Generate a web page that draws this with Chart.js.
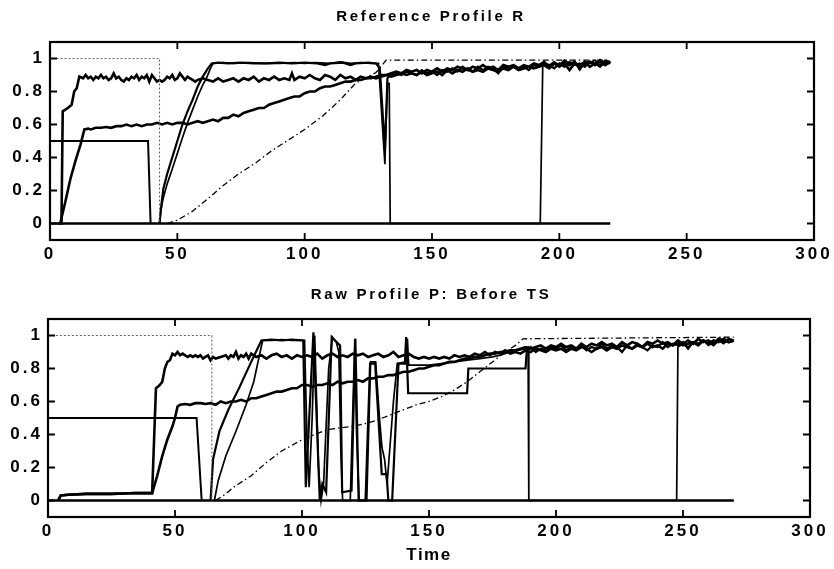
<!DOCTYPE html>
<html lang="en">
<head>
<meta charset="utf-8">
<title>Reference Profile R / Raw Profile P</title>
<script src="https://cdn.jsdelivr.net/npm/chart.js@4.4.0/dist/chart.umd.min.js"></script>
<style>
  body { margin: 0; background: #fff; }
  #wrap { position: relative; width: 834px; height: 569px; }
  canvas { position: absolute; left: 0; }
  #top { top: 0; }
  #bot { top: 270px; }
</style>
</head>
<body>
<div id="wrap">
  <canvas id="top" width="834" height="270" style="width:834px;height:270px"></canvas>
  <canvas id="bot" width="834" height="299" style="width:834px;height:299px"></canvas>
</div>

<script>
// axis ticks
var xTicks = [0, 50, 100, 150, 200, 250, 300];
var xTickLabels = ['0', '50', '100', '150', '200', '250', '300'];
var yTicks = [0, 0.2, 0.4, 0.6, 0.8, 1];
var yTickLabels = ['0', '0.2', '0.4', '0.6', '0.8', '1'];

// ---- Reference Profile R  [time, value]
var refDotted = [[1, 1], [43, 1], [43, 0]];
var refStep = [[0, 0.5], [38.5, 0.5], [39.5, 0]];
var refZero = [[0, 0], [220, 0]];
var refHigh = [[3, 0], [4.5, 0], [5, 0.68], [7, 0.7], [8.5, 0.72], [9.5, 0.8], [10.5, 0.82], [11.5, 0.89],
  [13, 0.88], [14, 0.9], [15, 0.88], [16, 0.89], [17, 0.87], [18, 0.89], [19, 0.88], [20, 0.9], [21, 0.88],
  [22, 0.89], [23, 0.87], [24, 0.88], [25, 0.91], [26, 0.88], [27, 0.89], [28, 0.87], [29, 0.86], [30, 0.88],
  [31, 0.87], [32, 0.89], [33, 0.88], [34, 0.9], [35, 0.87], [36, 0.89], [37, 0.88], [38, 0.9], [39, 0.86],
  [40, 0.9], [41, 0.88], [42, 0.86], [43, 0.87], [44, 0.86], [45, 0.87], [46, 0.89], [47, 0.88], [48, 0.9],
  [49, 0.87], [50, 0.88], [51, 0.91], [52, 0.89], [53, 0.87], [54, 0.89], [55, 0.88], [56, 0.87], [57, 0.86],
  [58, 0.87], [60, 0.88], [62, 0.87], [64, 0.86], [66, 0.88], [68, 0.86], [70, 0.87], [72, 0.88], [74, 0.86],
  [76, 0.88], [78, 0.87], [80, 0.89], [82, 0.86], [84, 0.88], [86, 0.87], [88, 0.89], [90, 0.87], [92, 0.88],
  [94, 0.87], [95, 0.91], [96, 0.87], [98, 0.89], [100, 0.88], [102, 0.9], [104, 0.88], [106, 0.87], [108, 0.9],
  [110, 0.89], [112, 0.87], [114, 0.9], [116, 0.88], [118, 0.89], [120, 0.87], [122, 0.89], [124, 0.88],
  [126, 0.89], [128, 0.88], [130, 0.89], [132, 0.9], [134, 0.89], [136, 0.9], [138, 0.91], [140, 0.9],
  [142, 0.91], [144, 0.9], [146, 0.92], [148, 0.9], [150, 0.91], [152, 0.92], [154, 0.9], [156, 0.93],
  [158, 0.91], [160, 0.93], [162, 0.92], [164, 0.94], [166, 0.92], [168, 0.93], [170, 0.92], [172, 0.94],
  [174, 0.93], [176, 0.92], [178, 0.94], [180, 0.93], [182, 0.95], [184, 0.93], [186, 0.94], [188, 0.95],
  [190, 0.94], [192, 0.95], [194, 0.96], [196, 0.94], [198, 0.97], [200, 0.95], [202, 0.97], [204, 0.93],
  [206, 0.97], [208, 0.96], [210, 0.98], [212, 0.95], [214, 0.97], [216, 0.98], [218, 0.96], [220, 0.98]];
var refMid = [[4, 0], [6, 0.13], [8, 0.27], [10, 0.38], [12, 0.48], [13.5, 0.57], [15, 0.575], [16, 0.57],
  [18, 0.58], [20, 0.58], [22, 0.585], [24, 0.58], [26, 0.59], [28, 0.59], [30, 0.6], [32, 0.59], [34, 0.6],
  [36, 0.59], [38, 0.6], [40, 0.6], [42, 0.61], [44, 0.6], [46, 0.61], [48, 0.6], [50, 0.61], [52, 0.61],
  [54, 0.6], [56, 0.61], [58, 0.62], [60, 0.61], [62, 0.62], [64, 0.63], [66, 0.62], [68, 0.64], [70, 0.64],
  [72, 0.66], [74, 0.65], [76, 0.67], [78, 0.68], [80, 0.69], [82, 0.7], [84, 0.7], [86, 0.72], [88, 0.73],
  [90, 0.74], [92, 0.75], [94, 0.76], [96, 0.77], [98, 0.77], [100, 0.79], [102, 0.8], [104, 0.8], [106, 0.82],
  [108, 0.83], [110, 0.83], [112, 0.84], [114, 0.85], [116, 0.86], [118, 0.86], [120, 0.87], [122, 0.87],
  [124, 0.88], [126, 0.88], [128, 0.89], [130, 0.9], [132, 0.9], [134, 0.91], [136, 0.92], [138, 0.91],
  [140, 0.93], [142, 0.92], [144, 0.93], [146, 0.91], [148, 0.93], [150, 0.92], [152, 0.94], [154, 0.92],
  [156, 0.94], [158, 0.93], [160, 0.95], [162, 0.94], [164, 0.93], [166, 0.95], [168, 0.94], [170, 0.96],
  [172, 0.94], [174, 0.95], [176, 0.93], [178, 0.96], [180, 0.95], [182, 0.96], [184, 0.94], [186, 0.96],
  [188, 0.95], [190, 0.97], [192, 0.96], [194, 0.98], [196, 0.95], [198, 0.97], [200, 0.96], [202, 0.98],
  [204, 0.96], [206, 0.98], [208, 0.94], [210, 0.97], [212, 0.98], [214, 0.96], [216, 0.99], [218, 0.97],
  [220, 0.98]];
var refRampA = [[43, 0], [43.8, 0.12], [44.5, 0.21], [46, 0.3], [48, 0.4], [50, 0.5], [52, 0.6], [54, 0.68],
  [56, 0.75], [58, 0.83], [60, 0.89], [62, 0.94], [63.5, 0.97], [66, 0.975], [70, 0.97], [75, 0.975], [80, 0.97],
  [85, 0.97], [90, 0.975], [95, 0.97], [100, 0.975], [105, 0.97], [108, 0.96], [110, 0.97], [115, 0.975],
  [118, 0.96], [120, 0.97], [125, 0.975], [128, 0.97], [129.5, 0.94], [130.5, 0.7], [131.5, 0.45], [132.5, 0.88],
  [133.5, 0.9], [136, 0.91], [138, 0.9], [140, 0.92], [142, 0.91], [144, 0.9], [146, 0.93], [148, 0.91],
  [150, 0.92], [152, 0.9], [154, 0.93], [156, 0.92], [158, 0.94], [160, 0.92], [162, 0.95], [164, 0.93],
  [166, 0.92], [168, 0.95], [170, 0.93], [172, 0.95], [174, 0.94], [176, 0.91], [178, 0.95], [180, 0.94],
  [182, 0.96], [184, 0.94], [186, 0.95], [188, 0.93], [190, 0.96], [192, 0.95], [194, 0.97], [196, 0.96],
  [198, 0.94], [200, 0.97], [202, 0.95], [204, 0.98], [206, 0.96], [208, 0.97], [210, 0.95], [212, 0.98],
  [214, 0.97], [216, 0.95], [218, 0.98], [220, 0.97]];
var refRampB = [[43, 0], [43.5, 0.08], [44.4, 0.15], [46, 0.24], [48, 0.33], [49.7, 0.41], [52, 0.52],
  [54, 0.61], [56, 0.69], [58, 0.77], [60, 0.84], [61.4, 0.88], [63, 0.94], [64, 0.97], [68, 0.975], [72, 0.97],
  [78, 0.975], [84, 0.97], [90, 0.97], [96, 0.975], [100, 0.97], [104, 0.975], [110, 0.97], [114, 0.98],
  [118, 0.97], [122, 0.975], [126, 0.97], [129, 0.97], [130.5, 0.6], [131.5, 0.36], [132.5, 0.85], [133.2, 0.85],
  [133.6, 0], [192.5, 0], [193.5, 0.97], [196, 0.96], [198, 0.98], [200, 0.96], [202, 0.99], [204, 0.97],
  [206, 0.98], [208, 0.93], [210, 0.98], [212, 0.97], [214, 0.99], [216, 0.96], [218, 0.99], [220, 0.98]];
var refDashDot = [[46, 0], [50, 0.02], [55.6, 0.07], [62, 0.15], [68, 0.23], [74, 0.3], [81, 0.37], [87, 0.44],
  [94, 0.51], [100, 0.57], [107, 0.65], [114, 0.75], [120, 0.85], [128, 0.915], [132, 0.99], [220, 0.99]];

// ---- Raw Profile P: Before TS  [time, value]
var rawDotted = [[1.5, 1], [64.5, 1], [64.5, 0]];
var rawStep = [[0, 0.5], [58.5, 0.5], [60.5, 0]];
var rawZero = [[0, 0], [270, 0]];
var rawHigh = [[4, 0], [5, 0.03], [8, 0.035], [15, 0.04], [25, 0.04], [35, 0.045], [41, 0.045], [42.5, 0.68],
  [44, 0.7], [45, 0.72], [46, 0.8], [47, 0.84], [48, 0.85], [49, 0.89], [50, 0.88], [51, 0.9], [52, 0.88],
  [53, 0.89], [54, 0.88], [55, 0.87], [56, 0.88], [57, 0.87], [58, 0.88], [59, 0.87], [60, 0.88], [61, 0.86],
  [62, 0.87], [63, 0.88], [64, 0.85], [65, 0.87], [66, 0.86], [68, 0.87], [70, 0.88], [71, 0.86], [72, 0.88],
  [73, 0.87], [74, 0.9], [75, 0.86], [76, 0.88], [77, 0.87], [78, 0.89], [79, 0.86], [80, 0.89], [82, 0.87],
  [84, 0.88], [86, 0.86], [88, 0.88], [90, 0.89], [92, 0.87], [94, 0.88], [96, 0.86], [98, 0.88], [100, 0.87],
  [102, 0.88], [104, 0.87], [106, 0.89], [108, 0.86], [110, 0.88], [112, 0.89], [114, 0.87], [116, 0.88],
  [118, 0.87], [120, 0.89], [122, 0.88], [124, 0.89], [126, 0.87], [128, 0.88], [130, 0.89], [132, 0.87],
  [134, 0.88], [136, 0.9], [138, 0.87], [140, 0.88], [142, 0.89], [144, 0.87], [146, 0.86], [148, 0.87],
  [150, 0.86], [152, 0.87], [154, 0.86], [156, 0.87], [158, 0.86], [160, 0.88], [162, 0.87], [164, 0.88],
  [166, 0.87], [168, 0.89], [170, 0.88], [172, 0.9], [174, 0.88], [176, 0.9], [178, 0.89], [180, 0.91],
  [182, 0.89], [184, 0.9], [186, 0.89], [188, 0.91], [190, 0.9], [192, 0.92], [194, 0.91], [196, 0.9],
  [198, 0.92], [200, 0.91], [202, 0.92], [204, 0.9], [206, 0.92], [208, 0.91], [210, 0.93], [212, 0.92],
  [214, 0.9], [216, 0.92], [218, 0.93], [220, 0.91], [222, 0.93], [224, 0.92], [226, 0.94], [228, 0.93],
  [230, 0.92], [232, 0.94], [234, 0.93], [236, 0.95], [238, 0.93], [240, 0.94], [242, 0.92], [244, 0.95],
  [246, 0.94], [248, 0.96], [250, 0.94], [252, 0.95], [254, 0.96], [256, 0.94], [258, 0.97], [260, 0.95],
  [262, 0.97], [264, 0.96], [266, 0.98], [268, 0.96], [270, 0.97]];
var rawMid = [[4, 0], [5, 0.03], [8, 0.035], [15, 0.04], [25, 0.04], [35, 0.045], [41, 0.045], [43, 0.15],
  [45, 0.27], [47, 0.37], [49, 0.45], [50, 0.5], [51, 0.57], [52, 0.58], [54, 0.585], [56, 0.58], [58, 0.59],
  [60, 0.59], [62, 0.585], [64, 0.59], [66, 0.58], [68, 0.6], [70, 0.59], [72, 0.6], [74, 0.6], [76, 0.61],
  [78, 0.6], [80, 0.62], [82, 0.62], [84, 0.63], [86, 0.64], [88, 0.65], [90, 0.66], [92, 0.66], [94, 0.67],
  [96, 0.68], [98, 0.68], [100, 0.7], [102, 0.7], [104, 0.69], [106, 0.7], [108, 0.7], [110, 0.71], [112, 0.7],
  [114, 0.72], [116, 0.71], [118, 0.72], [120, 0.72], [122, 0.73], [124, 0.72], [126, 0.74], [128, 0.74],
  [130, 0.75], [132, 0.75], [134, 0.76], [136, 0.76], [138, 0.77], [140, 0.78], [142, 0.78], [144, 0.79],
  [146, 0.8], [148, 0.8], [150, 0.81], [152, 0.82], [154, 0.82], [156, 0.83], [158, 0.84], [160, 0.84],
  [162, 0.85], [164, 0.86], [166, 0.86], [168, 0.87], [170, 0.87], [172, 0.88], [174, 0.89], [176, 0.89],
  [178, 0.9], [180, 0.9], [182, 0.91], [184, 0.91], [186, 0.92], [188, 0.93], [190, 0.92], [192, 0.93],
  [194, 0.94], [196, 0.92], [198, 0.94], [200, 0.93], [202, 0.95], [204, 0.93], [206, 0.94], [208, 0.92],
  [210, 0.95], [212, 0.93], [214, 0.95], [216, 0.94], [218, 0.96], [220, 0.94], [222, 0.95], [224, 0.93],
  [226, 0.96], [228, 0.94], [230, 0.96], [232, 0.95], [234, 0.93], [236, 0.96], [238, 0.95], [240, 0.97],
  [242, 0.95], [244, 0.96], [246, 0.94], [248, 0.97], [250, 0.95], [252, 0.97], [254, 0.95], [256, 0.98],
  [258, 0.96], [260, 0.97], [262, 0.95], [264, 0.98], [266, 0.97], [268, 0.96], [270, 0.97]];
var rawRampA = [[64, 0], [65, 0.25], [67.5, 0.42], [71, 0.55], [75.5, 0.69], [80, 0.84], [84, 0.97], [88, 0.975],
  [92, 0.97], [96, 0.975], [100.5, 0.97], [101.5, 0.08], [104.5, 1.02], [107, 0], [108, 0.1], [109.5, 0.05],
  [111.7, 0.99], [113, 0.97], [115, 0.94], [115.8, 0.05], [119.5, 0.06], [121, 0.98], [122.3, 0], [125, 0],
  [126.8, 0.83], [128.8, 0.83], [131.4, 0.16], [133.3, 0.16], [134, 0], [135.5, 0], [138, 0.83], [140.5, 0.83],
  [141, 0.99], [141.8, 0.65], [165, 0.65], [165.5, 0.8], [188, 0.8], [188.5, 0.91], [190, 0.93], [192, 0.9],
  [194, 0.92], [196, 0.91], [198, 0.93], [200, 0.92], [202, 0.94], [204, 0.91], [206, 0.93], [208, 0.92],
  [210, 0.94], [212, 0.91], [214, 0.93], [216, 0.92], [218, 0.95], [220, 0.92], [222, 0.94], [224, 0.93],
  [226, 0.9], [228, 0.94], [230, 0.92], [232, 0.95], [234, 0.93], [236, 0.91], [238, 0.94], [240, 0.93],
  [242, 0.96], [244, 0.93], [246, 0.95], [248, 0.94], [250, 0.96], [252, 0.92], [254, 0.96], [256, 0.95],
  [258, 0.97], [260, 0.96], [262, 0.94], [264, 0.97], [266, 0.96], [268, 0.98], [270, 0.97]];
var rawRampB = [[65.5, 0], [67, 0.12], [70, 0.27], [74, 0.42], [78, 0.58], [81, 0.72], [84.5, 0.97], [88, 0.97],
  [92, 0.975], [96, 0.97], [101, 0.97], [102, 0.35], [102.8, 0.08], [104, 0.5], [105, 1.0], [106.5, 0.2],
  [107.5, 0], [108.5, 0.1], [110.5, 0.8], [112, 0.99], [113.5, 0.96], [114.5, 0.9], [115.3, 0.3], [116, 0],
  [119, 0], [120.8, 0.98], [121.5, 0.4], [122.5, 0], [125.5, 0], [127, 0.84], [129, 0.84], [130.5, 0.5],
  [131.5, 0.32], [132.5, 0.25], [133.5, 0.1], [134.5, 0.3], [136, 0.6], [137.5, 0.83], [141, 0.84], [141.5, 0.98],
  [142, 0.82], [146, 0.82], [150, 0.82], [155, 0.83], [160, 0.84], [165, 0.85], [170, 0.86], [175, 0.87],
  [178, 0.88], [182, 0.9], [185, 0.91], [188, 0.92], [189, 0.93], [189.3, 0], [247.5, 0], [248, 0.93],
  [250, 0.95], [252, 0.93], [254, 0.96], [256, 0.95], [258, 0.97], [260, 0.94], [262, 0.96], [264, 0.97],
  [266, 0.95], [268, 0.98], [270, 0.97]];
var rawDashDot = [[66, 0], [70, 0.04], [73, 0.08], [80, 0.15], [86, 0.23], [92, 0.3], [99, 0.36], [105, 0.4],
  [110, 0.43], [115, 0.44], [120, 0.45], [126, 0.47], [130, 0.49], [135, 0.52], [140, 0.55], [145, 0.58],
  [150, 0.6], [155, 0.63], [160, 0.67], [165, 0.72], [170, 0.78], [175, 0.84], [180, 0.9], [184, 0.94],
  [187, 0.98], [270, 0.99]];

var FONT = '"Liberation Sans", Arial, Helvetica, sans-serif';

function line(pts, width, dash, color) {
  return {
    data: pts.map(function (p) { return { x: p[0], y: p[1] }; }),
    borderColor: color || '#000',
    borderWidth: width,
    borderDash: dash || [],
    pointRadius: 0,
    tension: 0,
    fill: false
  };
}

// frame, inward ticks and the text that sits outside the axes
var frame = {
  id: 'frame',
  beforeDraw: function (chart) {
    chart.ctx.letterSpacing = '3px';
  },
  afterDraw: function (chart, args, opts) {
    var ctx = chart.ctx, a = chart.chartArea;
    var xs = chart.scales.x, ys = chart.scales.y;
    ctx.save();
    ctx.strokeStyle = '#000';
    ctx.lineWidth = 2.2;
    ctx.strokeRect(a.left, a.top, a.right - a.left, a.bottom - a.top);
    ctx.lineWidth = 1.8;
    ctx.beginPath();
    xTicks.forEach(function (v) {
      var p = xs.getPixelForValue(v);
      ctx.moveTo(p, a.bottom); ctx.lineTo(p, a.bottom - 7);
      ctx.moveTo(p, a.top); ctx.lineTo(p, a.top + 7);
    });
    yTicks.forEach(function (v) {
      var p = ys.getPixelForValue(v);
      ctx.moveTo(a.left, p); ctx.lineTo(a.left + 7, p);
      ctx.moveTo(a.right, p); ctx.lineTo(a.right - 7, p);
    });
    ctx.stroke();

    ctx.fillStyle = '#000';
    ctx.textAlign = 'center';
    ctx.textBaseline = 'middle';
    ctx.letterSpacing = '2.7px';
    ctx.font = 'bold 15px ' + FONT;
    ctx.fillText(opts.title, 431, opts.titleY);
    if (opts.xTitle) {
      ctx.letterSpacing = '1.5px';
      ctx.font = 'bold 17px ' + FONT;
      ctx.fillText(opts.xTitle, 429, opts.xTitleY);
    }
    ctx.restore();
  }
};

function makeChart(id, datasets, o) {
  return new Chart(document.getElementById(id), {
    type: 'line',
    data: { datasets: datasets },
    options: {
      responsive: false,
      animation: false,
      layout: { padding: { left: 0, right: o.padRight, top: o.padTop, bottom: 0 } },
      plugins: {
        legend: { display: false },
        tooltip: { enabled: false },
        frame: { title: o.title, titleY: o.titleY, xTitle: o.xTitle, xTitleY: o.xTitleY }
      },
      scales: {
        x: {
          type: 'linear', min: 0, max: 300,
          grid: { display: false, drawTicks: false },
          border: { display: false },
          afterBuildTicks: function (s) { s.ticks = xTicks.map(function (v) { return { value: v }; }); },
          afterFit: function (s) { s.height = o.xHeight; },
          ticks: {
            autoSkip: false, maxRotation: 0, padding: 4, color: '#000',
            font: { family: FONT, size: 17, weight: 'bold' },
            callback: function (v, i) { return xTickLabels[i]; }
          }
        },
        y: {
          type: 'linear', min: -0.1, max: 1.1,
          grid: { display: false, drawTicks: false },
          border: { display: false },
          afterBuildTicks: function (s) { s.ticks = yTicks.map(function (v) { return { value: v }; }); },
          afterFit: function (s) { s.width = o.yWidth; },
          ticks: {
            padding: 5, color: '#000',
            font: { family: FONT, size: 17, weight: 'bold' },
            callback: function (v, i) { return yTickLabels[i]; }
          }
        }
      }
    },
    plugins: [frame]
  });
}

makeChart('top', [
  line(refDotted, 1.1, [2, 2], '#666'),
  line(refDashDot, 1.3, [6, 3, 1.5, 3]),
  line(refZero, 2.6),
  line(refStep, 2),
  line(refRampB, 1.7),
  line(refRampA, 2.2),
  line(refMid, 2.6),
  line(refHigh, 2.6)
], { padRight: 20, padTop: 42, xHeight: 30, yWidth: 50, title: 'Reference Profile R', titleY: 17 });

makeChart('bot', [
  line(rawDotted, 1.1, [2, 2], '#666'),
  line(rawDashDot, 1.3, [6, 3, 1.5, 3]),
  line(rawZero, 2.6),
  line(rawStep, 2),
  line(rawRampB, 1.7),
  line(rawRampA, 2.2),
  line(rawMid, 2.6),
  line(rawHigh, 2.6)
], { padRight: 24, padTop: 49, xHeight: 52, yWidth: 48, title: 'Raw Profile P: Before TS', titleY: 25,
     xTitle: 'Time', xTitleY: 285 });
</script>
</body>
</html>
